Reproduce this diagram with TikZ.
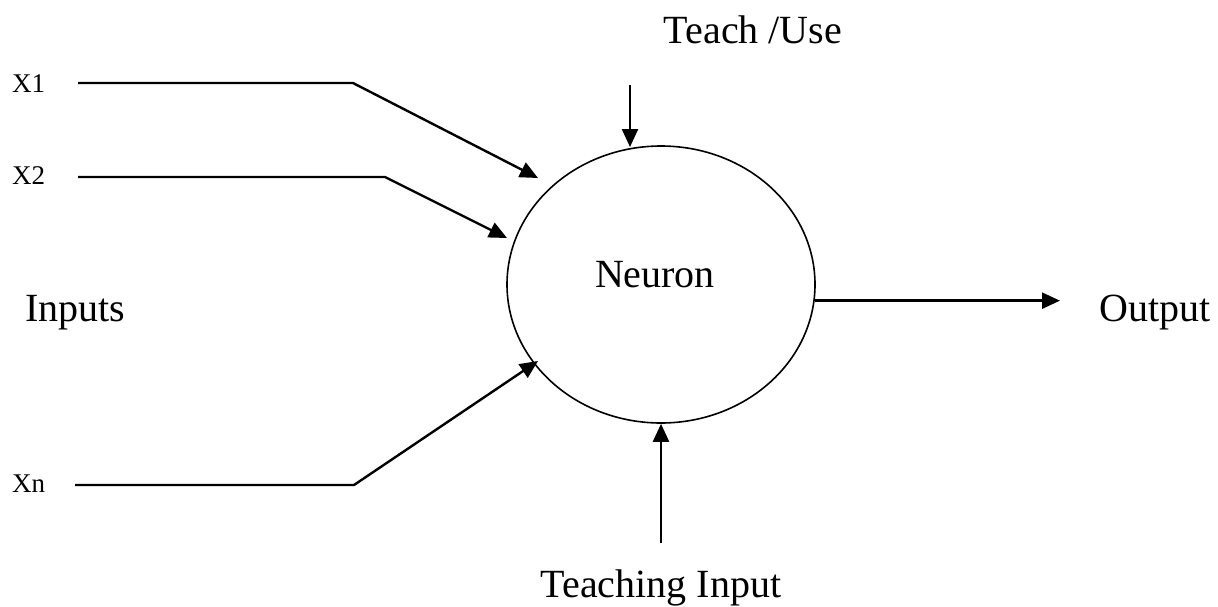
\documentclass[tikz,border=0pt]{standalone}
\usepackage{fontspec}
\setmainfont{Liberation Serif}
\usetikzlibrary{arrows.meta,shapes.geometric}
\begin{document}
\begin{tikzpicture}[x=1pt,y=-1pt,
  lbl/.style={font=\fontsize{40}{48}\selectfont, inner sep=0pt, anchor=base},
  xlbl/.style={font=\fontsize{27}{32}\selectfont, inner sep=0pt, anchor=base west},
  wire/.style={line width=2.4pt, line join=miter},
  arr/.style={wire, -{Triangle[length=18pt,width=16pt]}}]
\useasboundingbox (0,0) rectangle (1218,606);

% neuron
\node[draw, ellipse, line width=1.6pt, minimum width=308pt, minimum height=277pt, inner sep=0pt] (neuron) at (661,284.5) {};
\node[lbl] (neuronlbl) at (655,287) {Neuron};

% labels
\node[xlbl] (x1) at (12,92) {X1};
\node[xlbl] (x2) at (12,184) {X2};
\node[xlbl] (xn) at (12,492) {Xn};
\node[lbl, anchor=base west] (inputs) at (25,321) {Inputs};
\node[lbl, anchor=base west] (output) at (1099,321) {Output};
\node[lbl] (teach) at (753,43) {Teach /Use};
\node[lbl] (teachin) at (661,597) {Teaching Input};

% coordinates
\coordinate (s1) at (78,83);
\coordinate (b1) at (353,83);
\coordinate (t1) at (538,178);
\coordinate (s2) at (78,177);
\coordinate (b2) at (385,177);
\coordinate (t2) at (507,238);
\coordinate (sn) at (75,485);
\coordinate (bn) at (354,485);
\coordinate (tn) at (538,361);
\coordinate (us) at (630,85);
\coordinate (ut) at (630,147);
\coordinate (ts) at (661,543);
\coordinate (oe) at (1060,300);

% connectors
\draw[arr] (s1) -- (b1) -- (t1);
\draw[arr] (s2) -- (b2) -- (t2);
\draw[arr] (sn) -- (bn) -- (tn);
\draw[arr] (us) -- (ut);
\draw[arr] (ts) -- (neuron.south);
\draw[arr] (neuron.-6) -- (neuron.-6 -| oe);
\end{tikzpicture}
\end{document}
